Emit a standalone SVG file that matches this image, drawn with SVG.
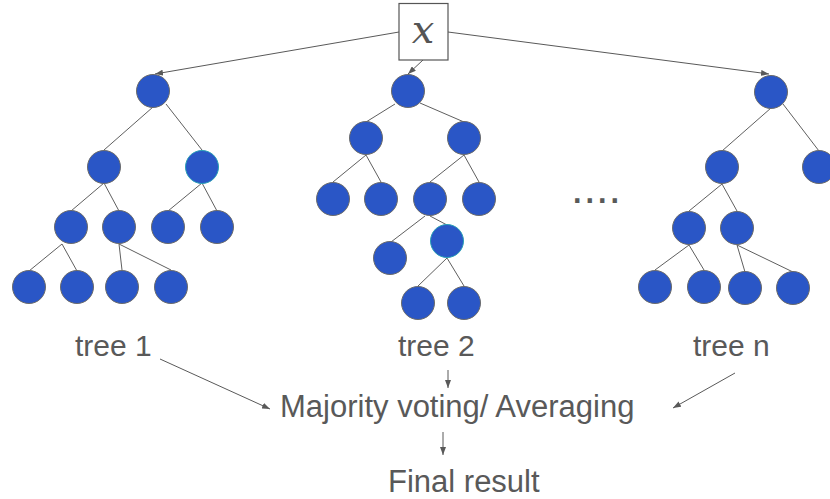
<svg xmlns="http://www.w3.org/2000/svg" width="830" height="499" viewBox="0 0 830 499">
<defs>
<marker id="arr" markerWidth="8" markerHeight="6" refX="8" refY="3" orient="auto" markerUnits="userSpaceOnUse">
<path d="M0,0 L8,3 L0,6 z" fill="#595959"/>
</marker>
<style>
.n{fill:#2a56c6;stroke:#6b6b6b;stroke-width:1}
.t{fill:#2a56c6;stroke:#2aa0b5;stroke-width:1}
.e{stroke:#5f5f5f;stroke-width:1;fill:none}
.a{stroke:#595959;stroke-width:1;fill:none;marker-end:url(#arr)}
.lbl{font-family:"Liberation Sans",Arial,sans-serif;fill:#595959}
</style>
</defs>
<rect width="830" height="499" fill="#fff"/>
<g id="connectors">
<line class="a" x1="399" y1="32" x2="155" y2="74"/>
<line class="a" x1="423" y1="60" x2="408" y2="74"/>
<line class="a" x1="448" y1="32" x2="769" y2="74"/>
<line class="e" x1="153" y1="107" x2="104" y2="150"/>
<line class="e" x1="166" y1="104" x2="202" y2="150"/>
<line class="e" x1="104" y1="183" x2="71" y2="211"/>
<line class="e" x1="104" y1="183" x2="119" y2="211"/>
<line class="e" x1="202" y1="183" x2="168" y2="211"/>
<line class="e" x1="202" y1="183" x2="217" y2="211"/>
<line class="e" x1="62" y1="244" x2="29" y2="271"/>
<line class="e" x1="62" y1="244" x2="77" y2="271"/>
<line class="e" x1="119" y1="244" x2="122" y2="270"/>
<line class="e" x1="119" y1="244" x2="171" y2="270"/>
<line class="e" x1="395" y1="104" x2="366" y2="122"/>
<line class="e" x1="420" y1="103" x2="464" y2="122"/>
<line class="e" x1="366" y1="155" x2="333" y2="182"/>
<line class="e" x1="366" y1="155" x2="381" y2="182"/>
<line class="e" x1="464" y1="155" x2="430" y2="182"/>
<line class="e" x1="464" y1="155" x2="479" y2="182"/>
<line class="e" x1="425" y1="216" x2="391" y2="242"/>
<line class="e" x1="430" y1="216" x2="447" y2="225"/>
<line class="e" x1="447" y1="258" x2="418" y2="286"/>
<line class="e" x1="447" y1="258" x2="464" y2="286"/>
<line class="e" x1="771" y1="108" x2="722" y2="151"/>
<line class="e" x1="783" y1="104" x2="819" y2="151"/>
<line class="e" x1="722" y1="184" x2="689" y2="211"/>
<line class="e" x1="722" y1="184" x2="737" y2="211"/>
<line class="e" x1="689" y1="245" x2="655" y2="270"/>
<line class="e" x1="689" y1="245" x2="704" y2="270"/>
<line class="e" x1="737" y1="245" x2="745" y2="272"/>
<line class="e" x1="737" y1="245" x2="793" y2="272"/>
<line class="a" x1="160" y1="359" x2="270" y2="409"/>
<line class="a" x1="448" y1="370" x2="448" y2="388"/>
<line class="a" x1="735" y1="373" x2="673" y2="408"/>
<line class="a" x1="443" y1="432" x2="443" y2="455"/>
</g>
<g id="input">
<rect x="399" y="3.5" width="49" height="56.5" fill="#fff" stroke="#555" stroke-width="1.2"/>
<text x="423" y="43" text-anchor="middle" font-family="'DejaVu Serif','Noto Sans',serif" font-size="40" fill="#555">𝑥</text>
</g>
<g id="tree1">
<circle class="n" cx="153" cy="91" r="16.5"/>
<circle class="n" cx="104" cy="167" r="16.5"/>
<circle class="t" cx="202" cy="167" r="16.5"/>
<circle class="n" cx="71" cy="227" r="16.5"/>
<circle class="n" cx="119" cy="227" r="16.5"/>
<circle class="n" cx="168" cy="227" r="16.5"/>
<circle class="n" cx="217" cy="227" r="16.5"/>
<circle class="n" cx="29" cy="287" r="16.5"/>
<circle class="n" cx="77" cy="287" r="16.5"/>
<circle class="n" cx="122" cy="287" r="16.5"/>
<circle class="n" cx="171" cy="287" r="16.5"/>
</g>
<g id="tree2">
<circle class="n" cx="408" cy="91" r="16.5"/>
<circle class="n" cx="366" cy="138" r="16.5"/>
<circle class="n" cx="464" cy="138" r="16.5"/>
<circle class="n" cx="333" cy="199" r="16.5"/>
<circle class="n" cx="381" cy="199" r="16.5"/>
<circle class="n" cx="430" cy="199" r="16.5"/>
<circle class="n" cx="479" cy="199" r="16.5"/>
<circle class="n" cx="390" cy="258" r="16.5"/>
<circle class="t" cx="447" cy="241" r="16.5"/>
<circle class="n" cx="418" cy="303" r="16.5"/>
<circle class="n" cx="464" cy="303" r="16.5"/>
</g>
<g id="treen">
<circle class="n" cx="771" cy="92" r="16.5"/>
<circle class="n" cx="722" cy="167" r="16.5"/>
<circle class="n" cx="819" cy="167" r="16.5"/>
<circle class="n" cx="689" cy="228" r="16.5"/>
<circle class="n" cx="737" cy="228" r="16.5"/>
<circle class="n" cx="655" cy="287" r="16.5"/>
<circle class="n" cx="704" cy="287" r="16.5"/>
<circle class="n" cx="745" cy="288" r="16.5"/>
<circle class="n" cx="793" cy="288" r="16.5"/>
</g>
<g id="ellipsis">
<text class="lbl" x="571" y="203" font-size="45">....</text>
</g>
<g id="labels">
<text class="lbl" x="75" y="356" font-size="30">tree 1</text>
<text class="lbl" x="398" y="356" font-size="30">tree 2</text>
<text class="lbl" x="693" y="356" font-size="30">tree n</text>
</g>
<g id="aggregate">
<text class="lbl" x="280" y="417" font-size="31">Majority voting/ Averaging</text>
</g>
<g id="result">
<text class="lbl" x="388" y="492" font-size="31">Final result</text>
</g>
</svg>
